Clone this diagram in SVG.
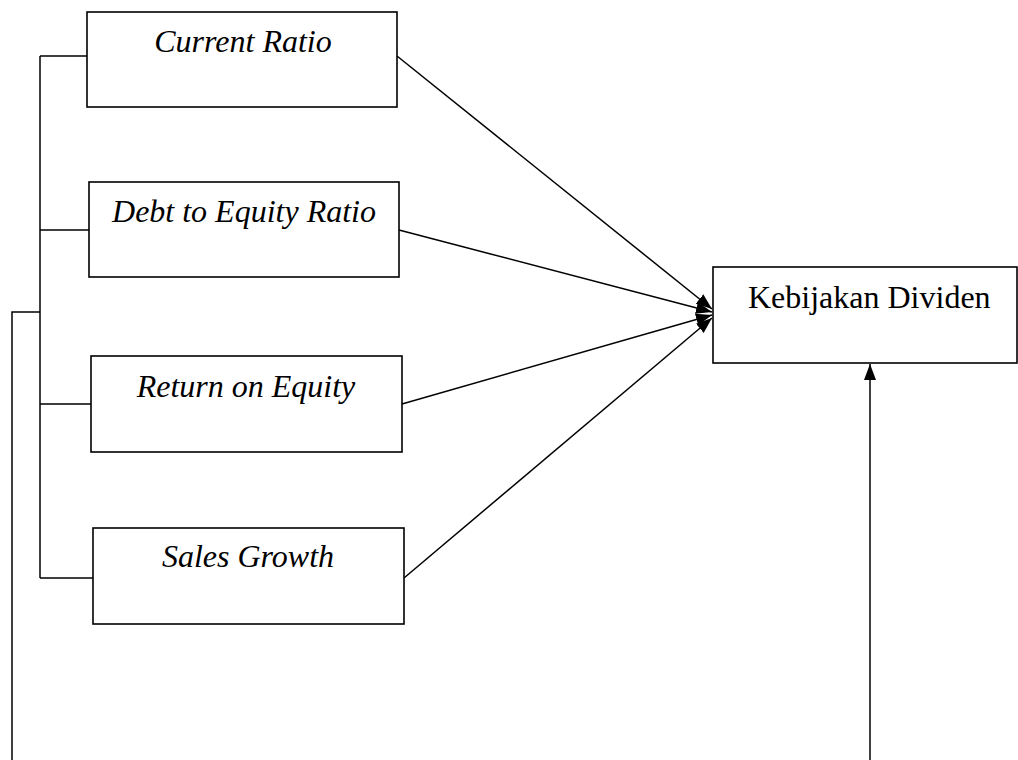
<svg xmlns="http://www.w3.org/2000/svg" width="1018" height="760" viewBox="0 0 1018 760">
<style>
.box{fill:#fff;stroke:#000;stroke-width:1.6}
.ln{fill:none;stroke:#000;stroke-width:1.5}
.t{font-family:"Liberation Serif","Times New Roman",serif;font-size:32px;fill:#000}
.i{font-style:italic;text-anchor:middle}
</style>
<defs>
<marker id="ah" markerUnits="userSpaceOnUse" markerWidth="17" markerHeight="13" refX="16" refY="6" orient="auto">
<path d="M0,0 L16,6 L0,12 z" fill="#000"/>
</marker>
</defs>
<rect width="1018" height="760" fill="#fff"/>
<g id="connectors">
<path class="ln" d="M40,56 V578 M40,56 H87 M40,230 H89 M40,404 H91 M40,578 H93"/>
<path class="ln" d="M40,312 H12 V760"/>
<line class="ln" x1="870" y1="760" x2="870" y2="364" marker-end="url(#ah)"/>
<line class="ln" x1="397" y1="56" x2="712" y2="309" marker-end="url(#ah)"/>
<line class="ln" x1="399" y1="230" x2="712" y2="312" marker-end="url(#ah)"/>
<line class="ln" x1="402" y1="404" x2="712" y2="315" marker-end="url(#ah)"/>
<line class="ln" x1="404" y1="578" x2="712" y2="318" marker-end="url(#ah)"/>
</g>
<g id="cr"><rect class="box" x="87" y="12" width="310" height="95"/><text class="t i" x="243" y="52">Current Ratio</text></g>
<g id="der"><rect class="box" x="89" y="182" width="310" height="95"/><text class="t i" x="244" y="222">Debt to Equity Ratio</text></g>
<g id="roe"><rect class="box" x="91" y="356" width="311" height="96"/><text class="t i" x="246" y="397">Return on Equity</text></g>
<g id="sg"><rect class="box" x="93" y="528" width="311" height="96"/><text class="t i" x="248" y="567">Sales Growth</text></g>
<g id="kd"><rect class="box" x="713" y="267" width="304" height="96"/><text class="t" x="748" y="308">Kebijakan Dividen</text></g>
</svg>
